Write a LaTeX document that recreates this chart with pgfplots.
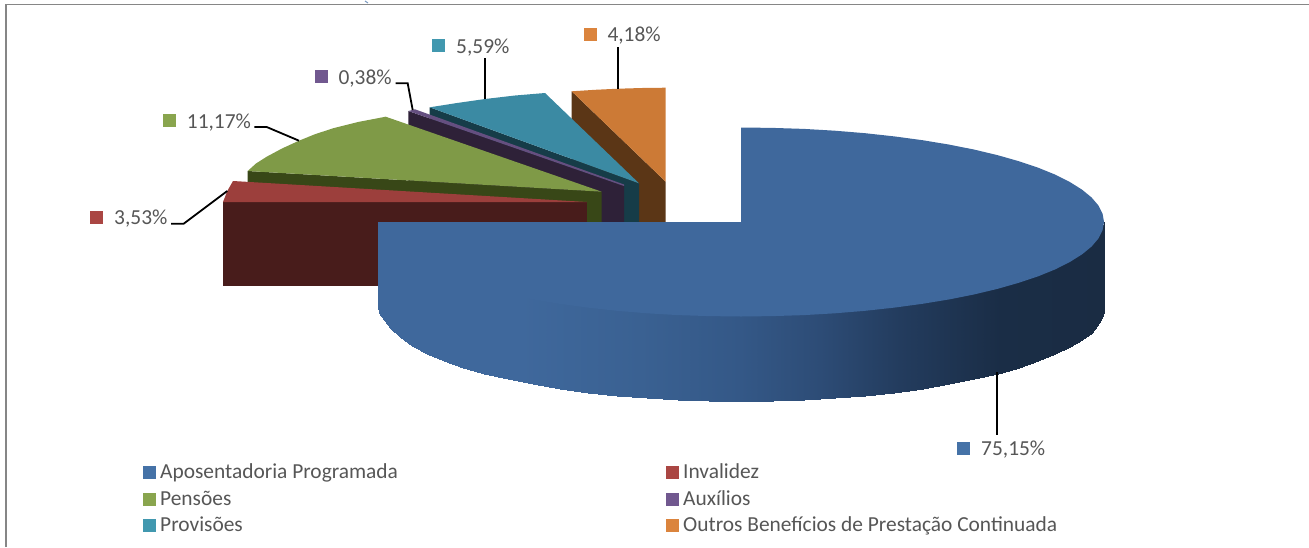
\documentclass[border=0pt]{standalone}
\usepackage{fontspec}
\setmainfont{Carlito}
\usepackage{pgfplots}
\usepgfplotslibrary{patchplots}
\pgfplotsset{compat=1.18}
\definecolor{frame}{HTML}{868686}
\definecolor{txt}{HTML}{565656}
% legend colours
\definecolor{cblue}{HTML}{4572A7}
\definecolor{cred}{HTML}{AA4643}
\definecolor{cgreen}{HTML}{89A54E}
\definecolor{cpurple}{HTML}{71588F}
\definecolor{cteal}{HTML}{4198AF}
\definecolor{corange}{HTML}{DB843D}
% top faces
\definecolor{tblue}{HTML}{3F689C}
\definecolor{tred}{HTML}{9C3F3C}
\definecolor{tgreen}{HTML}{7F9A47}
\definecolor{tpurple}{HTML}{654F80}
\definecolor{tteal}{HTML}{3B8AA3}
\definecolor{torange}{HTML}{CC7A36}
% side faces
\definecolor{sred}{HTML}{481C1B}
\definecolor{sgreen}{HTML}{384717}
\definecolor{spurple}{HTML}{2E2138}
\definecolor{steal}{HTML}{163C48}
\definecolor{sorange}{HTML}{5B3616}
\tikzset{lab/.style={anchor=base west,text=txt,font=\fontsize{21.4}{24}\selectfont,inner sep=0pt}}
\pgfplotsset{
  colormap={bluewall}{
    rgb255(378)=(63,104,156) rgb255(520)=(63,104,156)
    rgb255(640)=(58,97,146) rgb255(740)=(52,88,135) rgb255(820)=(45,76,118)
    rgb255(900)=(35,60,94) rgb255(1000)=(26,45,70) rgb255(1104)=(26,44,67)},
  sq/.style={only marks,mark=square*,mark size=5.8pt,mark options={draw=#1,fill=#1}},
  lead/.style={black,line width=1.8pt,line join=miter}
}
\begin{document}
\begin{tikzpicture}
\begin{axis}[
  name=ax,
  scale only axis,
  width=1309pt,height=547pt,
  xmin=0,xmax=1309,ymin=0,ymax=547,
  y dir=reverse,
  hide axis,
  clip=true
]
% frame of the page
\addplot[frame,line width=1.5pt] coordinates {(6,547) (6,4.7) (1309,4.7)};
\addplot[color=cblue!70!white,line width=1pt] coordinates {(365,1) (368,3)};

% orange slice
\addplot[fill=sorange,draw=none] coordinates {(571.7,91.3) (665.7,181.7) (665.7,222) (571.7,222)};
\addplot[fill=torange,draw=none] coordinates {(571.7,91.3) (595,89.8) (618,88.7) (642,88) (665.7,87.7) (665.7,181.7)};
% teal slice
\addplot[fill=steal,draw=none] coordinates {(429.7,107.3) (639,183.3) (639,222) (429.7,222)};
\addplot[fill=tteal,draw=none] coordinates {(429.7,107.3) (457,103) (485,99) (515,95.5) (545,93) (639,183.3)};
% purple slice
\addplot[fill=spurple,draw=none] coordinates {(408.3,111) (624,186) (624,222) (408.3,222)};
\addplot[fill=tpurple,draw=none] coordinates {(408.3,111) (415,109.3) (624,184.5) (624,186)};
% green slice
\addplot[fill=sgreen,draw=none] coordinates {(247.7,171) (601.7,191.7) (601.7,222) (247.7,222)};
\addplot[fill=tgreen,draw=none] coordinates {(247.7,171) (256,163.5) (266.7,156.7) (282,148.5) (299,140.7) (315,134.2) (333,128.3) (358,122) (385.7,116.7) (601.7,191.7)};
% red slice
\addplot[fill=sred,draw=none] coordinates {(223,202) (587,202) (587,286) (223,286)};
\addplot[fill=tred,draw=none] coordinates {(223,202) (227.3,191) (233,181) (587,202)};

% blue slice, side wall (upper row runs under the top face)
\addplot[surf,shader=interp,colormap name=bluewall,mesh/cols=37,
  point meta=x,point meta min=378,point meta max=1104] table {
x y
378 222
379.4 226
383.5 234
390.4 242
399.9 250
412.0 258
426.6 265
443.6 272
462.9 279
484.3 285
507.7 290
532.8 295
559.5 300
587.6 304
616.9 307
647.1 309
678 311
709.4 312
741 312.5
772.6 312
804 311
834.9 309
865.1 307
894.4 304
922.5 300
949.2 295
974.3 290
997.7 285
1019.1 279
1038.4 272
1055.4 265
1070 258
1082.1 250
1091.6 242
1098.5 234
1102.6 226
1104 222
378 307
379.4 313
383.5 320
390.4 328
399.9 337
412.0 346
426.6 354.3
443.6 361.2
462.9 367.7
484.3 373.8
507.7 379.4
532.8 384.4
559.5 388.8
587.6 392.6
616.9 395.8
647.1 398.3
678 400.1
709.4 401.1
741 401.5
772.6 401.1
804 400.1
834.9 398.3
865.1 395.8
894.4 392.6
922.5 388.8
949.2 384.4
974.3 379.4
997.7 373.5
1019.1 367.7
1038.4 361.2
1055.4 354.3
1070 347
1082.1 340
1091.6 332.5
1098.5 323
1102.6 316
1104 310
};
% blue slice, top face
\addplot[fill=tblue,draw=none] coordinates {
(741,127.5) (772.6,127.9) (804,128.9) (834.9,130.7) (865.1,133.2) (894.4,136.4)
(922.5,140.2) (949.2,144.6) (974.3,149.6) (997.7,155.2) (1019.1,161.3) (1038.4,167.8)
(1055.4,174.7) (1070,182.1) (1082.1,189.7) (1091.6,197.5) (1098.5,205.6) (1102.6,213.8)
(1104,222) (1102.6,230.2) (1098.5,238.4) (1091.6,246.5) (1082.1,254.3) (1070,261.9)
(1055.4,269.3) (1038.4,276.2) (1019.1,282.7) (997.7,288.8) (974.3,294.4) (949.2,299.4)
(922.5,303.8) (894.4,307.6) (865.1,310.8) (834.9,313.3) (804,315.1) (772.6,316.1)
(741,316.5) (709.4,316.1) (678,315.1) (647.1,313.3) (616.9,310.8) (587.6,307.6)
(559.5,303.8) (532.8,299.4) (507.7,294.4) (484.3,288.8) (462.9,282.7) (443.6,276.2)
(426.6,269.3) (412,261.9) (399.9,254.3) (390.4,246.5) (383.5,238.4) (379.4,230.2)
(378,222) (741,222)};

% leader lines
\addplot[lead] coordinates {(171,223.7) (183.7,223.7) (227.3,191)};
\addplot[lead] coordinates {(254.3,127) (266.7,127) (299,140.7)};
\addplot[lead] coordinates {(395.7,83.3) (407.7,83.3) (412.7,110)};
\addplot[lead] coordinates {(485,58.3) (485,99)};
\addplot[lead] coordinates {(618,47.3) (618,88.7)};
\addplot[lead] coordinates {(997,372) (997,435)};

% label keys
\addplot[sq=cblue] coordinates {(963,448)};
\addplot[sq=cred] coordinates {(96,217)};
\addplot[sq=cgreen] coordinates {(169,120)};
\addplot[sq=cpurple] coordinates {(321,76)};
\addplot[sq=cteal] coordinates {(438,45)};
\addplot[sq=corange] coordinates {(590,34)};
% legend keys
\addplot[sq=cblue] coordinates {(149,472)};
\addplot[sq=cred] coordinates {(672,472)};
\addplot[sq=cgreen] coordinates {(149,499)};
\addplot[sq=cpurple] coordinates {(672,499)};
\addplot[sq=cteal] coordinates {(149,525)};
\addplot[sq=corange] coordinates {(672,525)};

\node[lab] at (981,455) {75,15\%};
\node[lab] at (114,224) {3,53\%};
\node[lab] at (186.7,128) {11,17\%};
\node[lab] at (338.3,84) {0,38\%};
\node[lab] at (456,53) {5,59\%};
\node[lab] at (607.3,41.5) {4,18\%};

\node[lab] at (160,478) {Aposentadoria Programada};
\node[lab] at (683,478) {Invalidez};
\node[lab] at (160,505) {Pensões};
\node[lab] at (683,505) {Auxílios};
\node[lab] at (160,531) {Provisões};
\node[lab] at (683,531) {Outros Benefícios de Prestação Continuada};
\end{axis}
\pgfresetboundingbox
\path[use as bounding box] (ax.south west) rectangle (ax.north east);
\end{tikzpicture}
\end{document}
